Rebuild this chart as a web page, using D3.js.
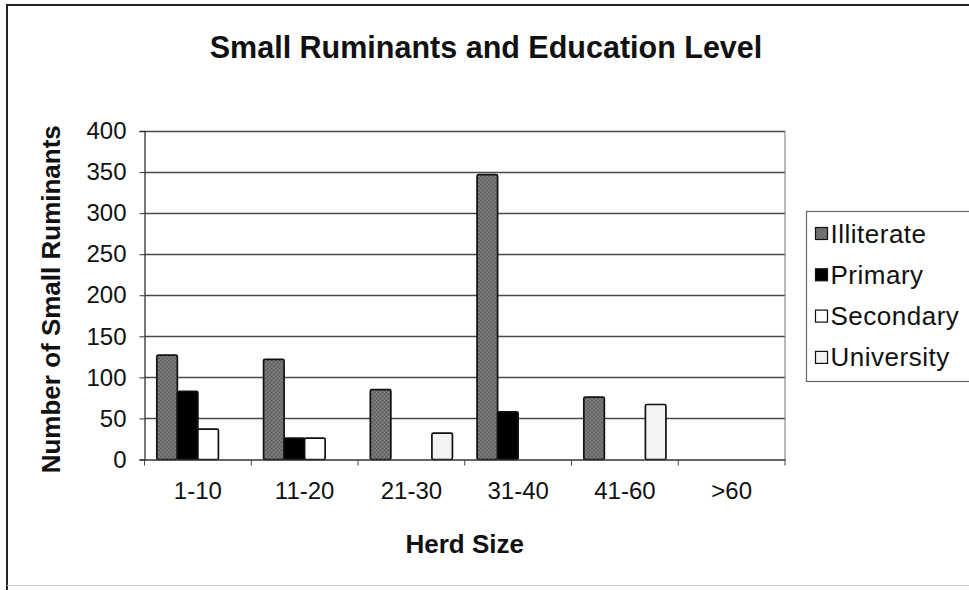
<!DOCTYPE html>
<html>
<head>
<meta charset="utf-8">
<script src="https://cdn.jsdelivr.net/npm/d3@7"></script>
<style>
  html, body { margin: 0; padding: 0; background: #fff; }
  svg { display: block; }
  text { font-family: "Liberation Sans", Arial, sans-serif; fill: #111; }
</style>
</head>
<body>
<svg id="chart" width="969" height="590"></svg>
<script>
// Herd size classes on the x axis
const categories = ["1-10", "11-20", "21-30", "31-40", "41-60", ">60"];

// Number of small ruminants by education level of the owner
const series = ["Illiterate", "Primary", "Secondary", "University"];
const illiterate = [127, 122, 85, 347, 76, 0];
const primary    = [83, 26, 0, 58, 0, 0];
const secondary  = [37, 26, 0, 0, 0, 0];
const university = [0, 0, 32, 0, 67, 0];

const yTicks = [0, 50, 100, 150, 200, 250, 300, 350, 400];

const seriesValues = { Illiterate: illiterate, Primary: primary, Secondary: secondary, University: university };

const svg = d3.select("#chart");

// stippled grey used for the Illiterate bars
const defs = svg.append("defs");
const pat = defs.append("pattern")
  .attr("id", "stipple").attr("patternUnits", "userSpaceOnUse")
  .attr("width", 4).attr("height", 4);
pat.append("rect").attr("width", 4).attr("height", 4).attr("fill", "#707070");
pat.append("rect").attr("x", 0).attr("y", 0).attr("width", 1).attr("height", 1).attr("fill", "#505050");
pat.append("rect").attr("x", 2).attr("y", 2).attr("width", 1).attr("height", 1).attr("fill", "#505050");
pat.append("rect").attr("x", 2).attr("y", 0).attr("width", 1).attr("height", 1).attr("fill", "#8e8e8e");
pat.append("rect").attr("x", 0).attr("y", 2).attr("width", 1).attr("height", 1).attr("fill", "#8e8e8e");

const fills = { Illiterate: "url(#stipple)", Primary: "#000", Secondary: "#fff", University: "#f3f3f3" };

// outer chart frame
svg.append("path")
  .attr("d", "M7,592 L7,5 L975,5")
  .attr("fill", "none").attr("stroke", "#222").attr("stroke-width", 2);
svg.append("line")
  .attr("x1", 7).attr("x2", 975).attr("y1", 585.5).attr("y2", 585.5)
  .attr("stroke", "#ccc").attr("stroke-width", 1);

const plot = { left: 144.5, right: 785, top: 131, bottom: 459.5 };

const x0 = d3.scaleBand().domain(categories).range([plot.left, plot.right]).padding(0);
const x1 = d3.scaleBand().domain(series).range([0, x0.bandwidth()]).paddingInner(0).paddingOuter(0.6);
const y = d3.scaleLinear().domain([0, 400]).range([plot.bottom, plot.top]);

// horizontal gridlines
svg.append("g")
  .selectAll("line").data(yTicks.filter(t => t > 0)).join("line")
  .attr("x1", plot.left).attr("x2", plot.right)
  .attr("y1", d => Math.round(y(d)) + 0.5).attr("y2", d => Math.round(y(d)) + 0.5)
  .attr("stroke", "#4a4a4a").attr("stroke-width", 1.3);

// right edge of plot area
svg.append("line")
  .attr("x1", plot.right).attr("x2", plot.right)
  .attr("y1", plot.top).attr("y2", plot.bottom)
  .attr("stroke", "#777").attr("stroke-width", 1);

// bars
const groups = svg.append("g").selectAll("g").data(categories).join("g")
  .attr("transform", d => `translate(${x0(d)},0)`);
groups.selectAll("rect")
  .data((c, i) => series.map(s => ({ s, v: seriesValues[s][i] })).filter(d => d.v > 0))
  .join("rect")
  .attr("x", d => x1(d.s))
  .attr("y", d => y(d.v))
  .attr("width", x1.bandwidth())
  .attr("height", d => y(0) - y(d.v))
  .attr("fill", d => fills[d.s])
  .attr("stroke", "#111").attr("stroke-width", 1.7)
  .attr("rx", 1.5);

// y axis
const yAxis = svg.append("g")
  .attr("transform", `translate(${plot.left},0)`)
  .call(d3.axisLeft(y).tickValues(yTicks).tickSize(5).tickPadding(13).tickFormat(d3.format("d")));
yAxis.select(".domain").attr("stroke", "#333").attr("stroke-width", 1.3);
yAxis.selectAll(".tick line").attr("stroke", "#333");
yAxis.selectAll(".tick text")
  .style("font-family", "'Liberation Sans', Arial, sans-serif")
  .attr("font-size", 24).attr("fill", "#111");

// x axis
const xAxis = svg.append("g")
  .attr("transform", `translate(0,${plot.bottom})`)
  .call(d3.axisBottom(x0).tickSize(0).tickPadding(22));
xAxis.select(".domain").attr("stroke", "#333").attr("stroke-width", 1.3);
xAxis.selectAll(".tick text")
  .style("font-family", "'Liberation Sans', Arial, sans-serif")
  .attr("font-size", 24).attr("fill", "#111");
// category separator ticks
svg.append("g").selectAll("line")
  .data(categories.map(c => x0(c)).concat([plot.right]))
  .join("line")
  .attr("x1", d => d).attr("x2", d => d)
  .attr("y1", plot.bottom).attr("y2", plot.bottom + 6)
  .attr("stroke", "#444").attr("stroke-width", 1);

// titles
svg.append("text")
  .attr("x", 486).attr("y", 58)
  .attr("text-anchor", "middle")
  .attr("font-size", 30.5).attr("font-weight", "bold")
  .text("Small Ruminants and Education Level");

svg.append("text")
  .attr("transform", `translate(60,${(plot.top + plot.bottom) / 2 + 4}) rotate(-90)`)
  .attr("text-anchor", "middle")
  .attr("font-size", 26).attr("font-weight", "bold")
  .text("Number of Small Ruminants");

svg.append("text")
  .attr("x", (plot.left + plot.right) / 2).attr("y", 553)
  .attr("text-anchor", "middle")
  .attr("font-size", 26).attr("font-weight", "bold")
  .text("Herd Size");

// legend
const legend = svg.append("g").attr("transform", "translate(806.5,211.5)");
legend.append("rect")
  .attr("width", 170).attr("height", 170)
  .attr("fill", "#fff").attr("stroke", "#666").attr("stroke-width", 1.2);
const li = legend.selectAll("g.item").data(series).join("g")
  .attr("class", "item")
  .attr("transform", (d, i) => `translate(0,${22 + i * 41.3})`);
li.append("rect")
  .attr("x", 9).attr("y", -6).attr("width", 12).attr("height", 12)
  .attr("fill", d => fills[d]).attr("stroke", "#111").attr("stroke-width", 1.2);
li.append("text")
  .attr("x", 24).attr("y", 9)
  .attr("font-size", 26).attr("letter-spacing", 0.5)
  .text(d => d);
</script>
</body>
</html>
